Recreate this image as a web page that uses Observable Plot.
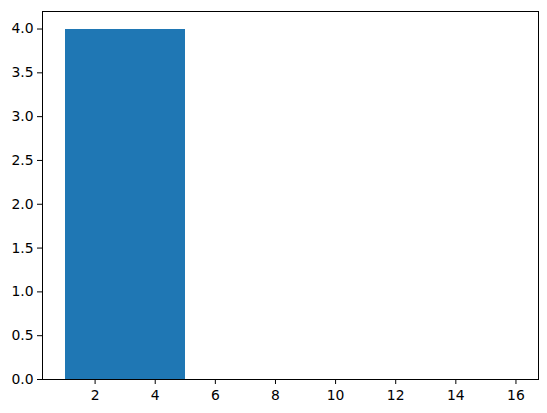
<!DOCTYPE html>
<html>
<head>
<meta charset="utf-8">
<script src="https://cdn.jsdelivr.net/npm/d3@7"></script>
<script src="https://cdn.jsdelivr.net/npm/@observablehq/plot@0.6"></script>
<style>
  html, body { margin: 0; padding: 0; background: #fff; }
  svg { display: block; }
</style>
</head>
<body>
<div id="chart"></div>
<script>
const binStarts = [1, 5, 9, 13];
const binEnds = [5, 9, 13, 16];
const counts = [4, 0, 0, 0];
const xTicks = [2, 4, 6, 8, 10, 12, 14, 16];
const yTicks = [0, 0.5, 1, 1.5, 2, 2.5, 3, 3.5, 4];

const bins = binStarts.map((s, i) => ({x1: s, x2: binEnds[i], y: counts[i]}));

const chart = Plot.plot({
  width: 547,
  height: 413,
  marginLeft: 42,
  marginRight: 9,
  marginTop: 11,
  marginBottom: 34,
  style: {fontFamily: "DejaVu Sans", fontSize: "13.9px", color: "#000", background: "#fff"},
  x: {domain: [0.25, 16.75]},
  y: {domain: [0, 4.2]},
  marks: [
    Plot.rectY(bins, {x1: "x1", x2: "x2", y: "y", fill: "#1f77b4", inset: 0, shapeRendering: "crispEdges"}),
    Plot.axisX({ticks: xTicks, tickSize: 5, tickPadding: 6, label: null, stroke: "#000", tickFormat: d3.format("d")}),
    Plot.axisY({ticks: yTicks, tickSize: 5, tickPadding: 4, label: null, stroke: "#000", tickFormat: d3.format(".1f")}),
    Plot.frame({stroke: "#000", strokeWidth: 1})
  ]
});
document.getElementById("chart").appendChild(chart);
</script>
</body>
</html>
